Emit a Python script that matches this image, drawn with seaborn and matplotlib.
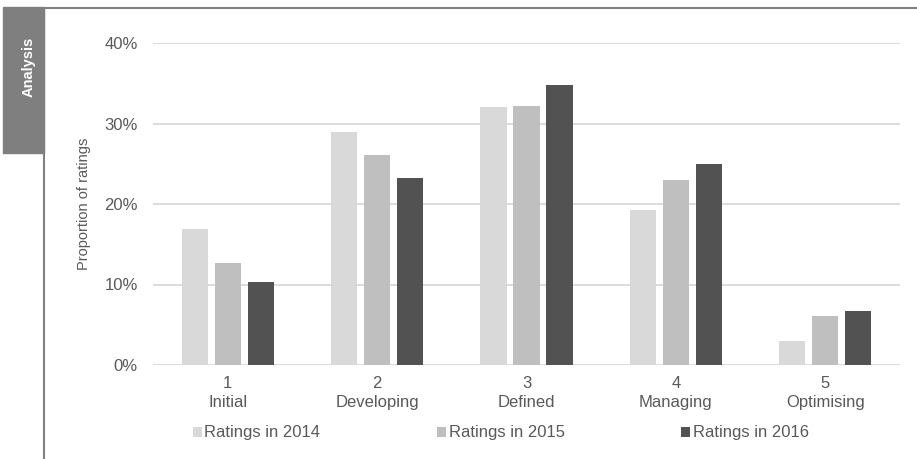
import matplotlib.pyplot as plt
import pandas as pd
import seaborn as sns
from matplotlib.lines import Line2D
from matplotlib.patches import Rectangle
from matplotlib.ticker import PercentFormatter

# Data
levels = ['1\nInitial', '2\nDeveloping', '3\nDefined', '4\nManaging', '5\nOptimising']
years = ['Ratings in 2014', 'Ratings in 2015', 'Ratings in 2016']
ratings_2014 = [0.169, 0.289, 0.320, 0.193, 0.030]
ratings_2015 = [0.127, 0.261, 0.322, 0.230, 0.061]
ratings_2016 = [0.103, 0.232, 0.348, 0.250, 0.067]
colours = ['#d9d9d9', '#bfbfbf', '#525252']

df = pd.concat([
    pd.DataFrame({'level': levels, 'year': years[0], 'value': ratings_2014}),
    pd.DataFrame({'level': levels, 'year': years[1], 'value': ratings_2015}),
    pd.DataFrame({'level': levels, 'year': years[2], 'value': ratings_2016}),
])

sns.set_style('white')
plt.rcParams['font.family'] = ['Liberation Sans', 'DejaVu Sans']
text_grey = '#595959'

fig = plt.figure(figsize=(9.17, 4.59), dpi=100)
ax = fig.add_axes([153 / 917, 1 - 365 / 459, 747 / 917, 322 / 459])

sns.barplot(data=df, x='level', y='value', hue='year', order=levels, hue_order=years,
            palette=dict(zip(years, colours)), saturation=1, errorbar=None,
            width=0.663, gap=0.21, linewidth=0, ax=ax)

ax.set_ylim(0, 0.4)
ax.set_yticks([0, 0.1, 0.2, 0.3, 0.4])
ax.yaxis.set_major_formatter(PercentFormatter(1.0, decimals=0))
ax.grid(axis='y', color='#d9d9d9', linewidth=1.3)
ax.set_axisbelow(True)
for side in ['top', 'right', 'left', 'bottom']:
    ax.spines[side].set_visible(False)
ax.tick_params(axis='both', length=0, colors=text_grey, labelsize=12)
ax.tick_params(axis='y', pad=11)
ax.tick_params(axis='x', pad=8)
for lbl in ax.get_xticklabels():
    lbl.set_linespacing(1.35)
ax.set_xlabel('')
ax.set_ylabel('Proportion of ratings', fontsize=10.5, color=text_grey)
ax.yaxis.set_label_coords(-0.083, 0.5)

ax.legend(loc='center', bbox_to_anchor=(0.546, 1 - 433 / 459), bbox_transform=fig.transFigure,
          ncol=3, frameon=False, fontsize=12, handlelength=0.55, handleheight=0.55,
          handletextpad=0.15, columnspacing=7.0, labelcolor=text_grey)

# page frame and side tab
fig.add_artist(Line2D([44 / 917, 1], [1 - 7.5 / 459] * 2, transform=fig.transFigure,
                      color='#7f7f7f', linewidth=1.5))
fig.add_artist(Line2D([44 / 917] * 2, [0, 1 - 7.5 / 459], transform=fig.transFigure,
                      color='#7f7f7f', linewidth=1.5))
fig.add_artist(Rectangle((3 / 917, 1 - 153 / 459), 41 / 917, 146 / 459,
                         transform=fig.transFigure, color='#7f7f7f'))
fig.text(29 / 917, 1 - 67 / 459, 'Analysis', rotation=90, color='white',
         fontweight='bold', fontsize=10.5, ha='center', va='center',
         family=['Liberation Sans Narrow', 'Liberation Sans'])

fig.savefig('out.png', dpi=100)
